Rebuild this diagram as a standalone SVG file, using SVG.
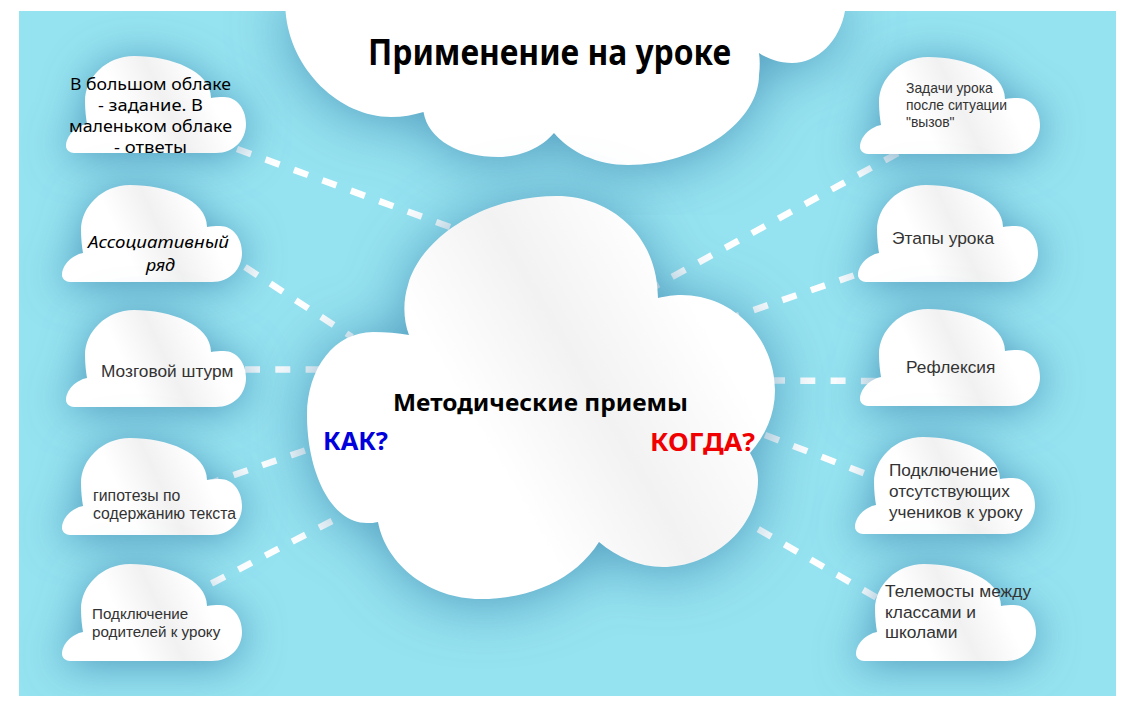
<svg xmlns="http://www.w3.org/2000/svg" width="1135" height="713" viewBox="0 0 1135 713">
<style>
.c{font-family:"Comic Sans MS","Noto Sans",sans-serif;fill:#000}
.a{font-family:"Liberation Sans",Arial,sans-serif;fill:#333}
.b{font-weight:700}
.k{fill:url(#g);filter:url(#s)}
.d{stroke:#fff;stroke-width:6.5;stroke-dasharray:15 15.3;fill:none}
</style>
<defs>
<linearGradient id="g" gradientUnits="userSpaceOnUse" x1="15" y1="103" x2="195" y2="17">
<stop offset="0" stop-color="#fff"/><stop offset=".3" stop-color="#fff"/><stop offset=".5" stop-color="#f1f1f1"/><stop offset=".72" stop-color="#fff"/><stop offset="1" stop-color="#fff"/>
</linearGradient>
<linearGradient id="gc" gradientUnits="userSpaceOnUse" x1="315" y1="507" x2="831" y2="207">
<stop offset="0" stop-color="#fff"/><stop offset=".3" stop-color="#fff"/><stop offset=".5" stop-color="#f2f2f2"/><stop offset=".72" stop-color="#fff"/><stop offset="1" stop-color="#fff"/>
</linearGradient>
<filter id="s" x="-60%" y="-80%" width="220%" height="260%" color-interpolation-filters="sRGB">
<feDropShadow dx="0" dy="4" stdDeviation="21" flood-color="#3f88b0" flood-opacity=".8"/>
</filter>
<filter id="sb" x="-30%" y="-30%" width="160%" height="160%" color-interpolation-filters="sRGB">
<feDropShadow dx="0" dy="4" stdDeviation="28" flood-color="#3f88b0" flood-opacity=".78"/>
</filter>
<clipPath id="p"><rect x="19" y="11" width="1097" height="685"/></clipPath>
<path id="sc" d="M8,97 H150 C168,97 180,84 180,68 C180,52 170,41 158,41 C153,41 149,41 145,42 C145,15 105,0 68,0 C40,0 19,22 19,45 C19,54 20,62 21,68 C10,70 0,80 0,90 C0,94 4,97 8,97 Z"/>
</defs>
<rect width="1135" height="713" fill="#fff"/>
<rect x="19" y="11" width="1097" height="685" fill="#95e2f0"/>
<g id="connectors" class="d">
<path d="M237,149 L450,227"/>
<path d="M245,267 L352,337"/>
<path d="M245,369.500 L320,369.500"/>
<path d="M305,450.500 L205,485"/>
<path d="M211.500,583.500 L332,521"/>
<path d="M645.600,291.500 L900,152"/>
<path d="M725,320 L858,274"/>
<path d="M770,380.500 L876,381"/>
<path d="M765,435 L866,474"/>
<path d="M732,514 L879,599"/>
</g>
<g clip-path="url(#p)">
<g id="title-cloud">
<path fill="#fff" filter="url(#sb)" d="M285,0 L285.500,11 C290,70 340,117 391,117 C403,117 413,115 423.500,112 C428,140 460,157 498,157 C522,157 542,147 554,133 C570,152 597,165 628,165 C700,165 759,120 759,75 C760,67 760,60 759,53 C768,59 780,63 792,63 C818,63 840,40 845,11 L845,0 Z"/>
<text class="c b" x="368" y="65" font-size="35" textLength="363" lengthAdjust="spacingAndGlyphs">Применение на уроке</text>
</g>
<g id="center-cloud">
<path fill="url(#gc)" filter="url(#sb)" d="M409,335 C403,320 403,300 408,285 C420,240 480,196 557,196 C610,196 658,235 658,298 C667,296 673,295 681,295 C735,295 775,340 775,390 C775,415 765,436 750,453 C755,462 758,470 758,480 C758,530 710,567 663,567 C639,567 617,557 599,542 C575,580 530,599 480,599 C430,599 386,565 378,522 C374,523 371,523 367,523 C330,523 307,470 307,415 C307,368 335,332 373,332 C386,332 398,333 409,335 Z"/>
<text class="c b" x="393" y="411" font-size="24" textLength="295" lengthAdjust="spacingAndGlyphs">Методические приемы</text>
<text class="c b" x="323" y="450" font-size="25" style="fill:#0000dc" textLength="65" lengthAdjust="spacingAndGlyphs">КАК?</text>
<text class="c b" x="650" y="451" font-size="25" style="fill:#f00000" textLength="105" lengthAdjust="spacingAndGlyphs">КОГДА?</text>
</g>
<g id="n-l1"><use href="#sc" x="66" y="56" class="k"/>
<text class="c" font-size="16" x="70" y="90" textLength="161" lengthAdjust="spacingAndGlyphs">В большом облаке</text>
<text class="c" font-size="16" x="98" y="111" textLength="105" lengthAdjust="spacingAndGlyphs">- задание. В</text>
<text class="c" font-size="16" x="69" y="132" textLength="163" lengthAdjust="spacingAndGlyphs">маленьком облаке</text>
<text class="c" font-size="16" x="114" y="153" textLength="73" lengthAdjust="spacingAndGlyphs">- ответы</text></g>
<g id="n-l2"><use href="#sc" x="62" y="185" class="k"/>
<text class="c" font-style="italic" font-size="17" x="88" y="248" textLength="141" lengthAdjust="spacingAndGlyphs">Ассоциативный</text>
<text class="c" font-style="italic" font-size="17" x="146" y="271" textLength="29" lengthAdjust="spacingAndGlyphs">ряд</text></g>
<g id="n-l3"><use href="#sc" x="66" y="310" class="k"/>
<text class="a" font-size="17.300" x="101" y="377">Мозговой штурм</text></g>
<g id="n-l4"><use href="#sc" x="62" y="438" class="k"/>
<text class="a" font-size="15.800" x="93" y="501">гипотезы по</text>
<text class="a" font-size="15.800" x="93" y="519">содержанию текста</text></g>
<g id="n-l5"><use href="#sc" x="62" y="564" class="k"/>
<text class="a" font-size="15.200" x="92" y="619">Подключение</text>
<text class="a" font-size="15.200" x="92" y="637">родителей к уроку</text></g>
<g id="n-r1"><use href="#sc" x="860" y="57" class="k"/>
<text class="a" font-size="13.900" x="906" y="93">Задачи урока</text>
<text class="a" font-size="13.900" x="906" y="110">после ситуации</text>
<text class="a" font-size="13.900" x="906" y="127">"вызов"</text></g>
<g id="n-r2"><use href="#sc" x="858" y="185" class="k"/>
<text class="a" font-size="17.400" x="892" y="244">Этапы урока</text></g>
<g id="n-r3"><use href="#sc" x="860" y="309" class="k"/>
<text class="a" font-size="17.300" x="906" y="373">Рефлексия</text></g>
<g id="n-r4"><use href="#sc" x="855" y="437" class="k"/>
<text class="a" font-size="17.200" x="889" y="476">Подключение</text>
<text class="a" font-size="17.200" x="889" y="497">отсутствующих</text>
<text class="a" font-size="17.200" x="889" y="518">учеников к уроку</text></g>
<g id="n-r5"><use href="#sc" x="856" y="564" class="k"/>
<text class="a" font-size="17.400" x="885" y="597">Телемосты между</text>
<text class="a" font-size="17.400" x="885" y="618">классами и</text>
<text class="a" font-size="17.400" x="885" y="638">школами</text></g>
</g>
</svg>
